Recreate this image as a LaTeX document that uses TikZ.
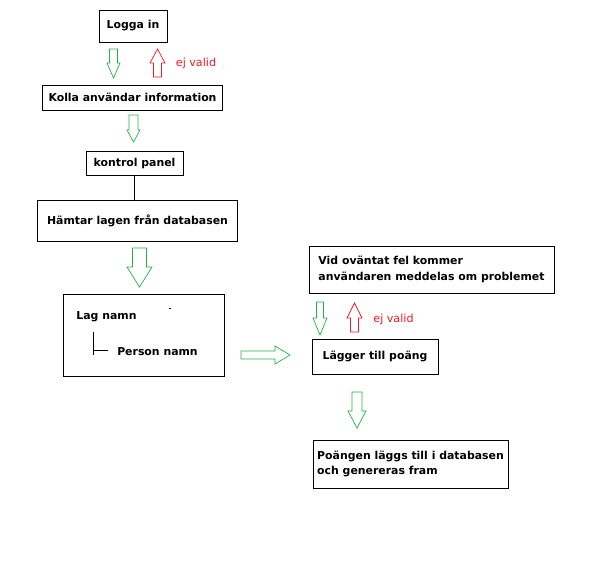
\documentclass[tikz,border=0pt]{standalone}
\usepackage{fontspec}
\setmainfont{DejaVu Sans}

\definecolor{paintgreen}{RGB}{34,177,76}
\definecolor{paintred}{RGB}{237,28,36}

\tikzset{
	box/.style = {draw = black, line width = 0.85pt, inner sep = 0pt, font = \fontsize{9.3}{13}\selectfont\bfseries},
	boxtext/.style = {inner sep = 0pt, font = \fontsize{9.3}{13}\selectfont\bfseries},
	invalid/.style = {inner sep = 0pt, text = paintred, font = \fontsize{9.5}{11}\selectfont},
	pics/blockarrow/.style n args = {4}{code = {
		\draw (-#1,0) -- (#1,0) -- (#1,#3-#4) -- (#2,#3-#4) -- (0,#3) -- (-#2,#3-#4) -- (-#1,#3-#4) -- cycle;
	}},
}

\begin{document}
\begin{tikzpicture}[x = 0.03cm, y = -0.03cm]
		\useasboundingbox (0,0) rectangle (596,586);
		
		\node [box, minimum width = 2.04cm, minimum height = 0.96cm] (loggain) at (133,26) {Logga in};
		\node [box, minimum width = 5.37cm, minimum height = 0.75cm] (kolla) at (132.5,97.5) {Kolla användar information};
		\node [box, minimum width = 2.91cm, minimum height = 0.72cm] (kontrol) at (134.5,163) {kontrol panel};
		\node [box, minimum width = 5.97cm, minimum height = 1.23cm] (hamtar) at (137.5,220.5) {Hämtar lagen från databasen};
		\node [box, minimum width = 4.8cm, minimum height = 2.46cm] (lag) at (144,335) {};
		\node [box, minimum width = 7.35cm, minimum height = 1.41cm, align = left] (vid) at (431.5,269.5) {Vid oväntat fel kommer\\användaren meddelas om problemet};
		\node [box, minimum width = 3.78cm, minimum height = 1.05cm] (lagger) at (375,356.5) {Lägger till poäng};
		\node [box, minimum width = 5.85cm, minimum height = 1.44cm, align = left] (poangen) at (410.5,464) {Poängen läggs till i databasen\\och genereras fram};
		
		\node [boxtext] (lagnamn) at (106.5,317) {Lag namn};
		\node [boxtext] (person) at (157.5,352) {Person namn};
		\draw [line width = 0.85pt] (93,332) -- (93,355);
		\draw [line width = 0.85pt] (93,350) -- (108,350);
		\draw [line width = 0.85pt] (169,308) -- (171,308);
		
		\draw [line width = 0.85pt] (kontrol.south) -- (kontrol.south |- hamtar.north);
		
		\begin{scope} [line width = 0.6pt]
		\pic [paintgreen] at (113.5,49) {blockarrow={4}{6.5}{29}{15}};
		\pic [paintred, rotate = 180] at (157.5,77) {blockarrow={4}{7.5}{28}{14}};
		\pic [paintgreen] at (133.5,115) {blockarrow={4.5}{6.5}{27}{12}};
		\pic [paintgreen] at (139.5,248) {blockarrow={7}{12.5}{39}{20}};
		\pic [paintgreen, rotate = 90] at (241,355) {blockarrow={4}{9}{49}{15}};
		\pic [paintgreen] at (320,302) {blockarrow={3.5}{7}{33}{17}};
		\pic [paintred, rotate = 180] at (354.5,332) {blockarrow={4}{7.5}{29}{15}};
		\pic [paintgreen] at (357,392) {blockarrow={5}{9}{36}{17}};
		\end{scope}
		
		\node [invalid] (ejvalid1) at (196,63) {ej valid};
		\node [invalid] (ejvalid2) at (393.5,319) {ej valid};
		
		\end{tikzpicture}
\end{document}
